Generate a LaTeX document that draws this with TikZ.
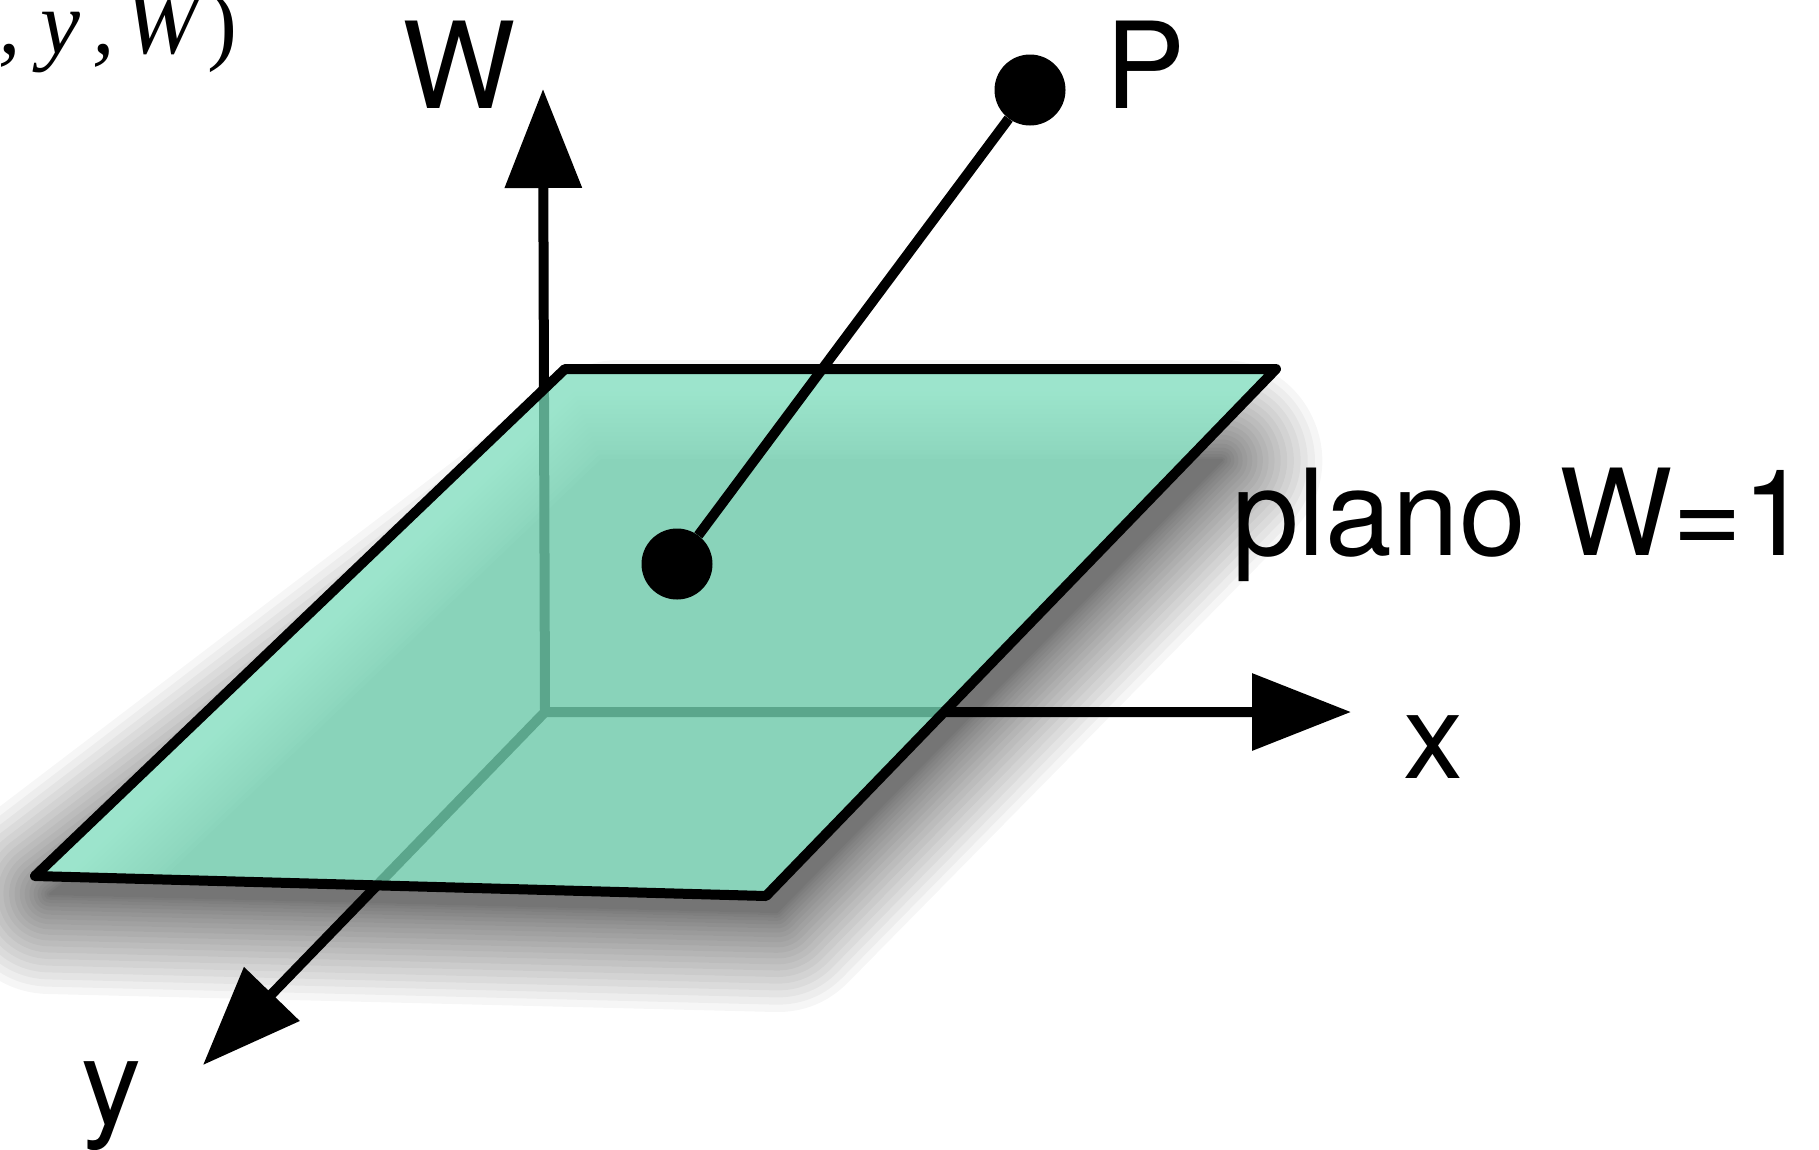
\documentclass[tikz,border=0pt]{standalone}
\usepackage{fontspec}
\setmainfont{TeX Gyre Heros}
\newfontfamily\serifit{Liberation Serif}
\usetikzlibrary{arrows.meta,intersections}
\definecolor{planelight}{RGB}{170,242,218}
\definecolor{planemid}{RGB}{137,211,186}
\definecolor{hiddenaxis}{RGB}{91,166,140}
\tikzset{
  axisline/.style={line width=10pt, draw=black},
  axisarrow/.style={axisline, -{Triangle[length=99pt,width=75pt]}},
  hiddenline/.style={line width=10pt, draw=hiddenaxis, line join=round},
  planeedge/.style={line width=10pt, draw=black, line join=round},
  dot/.style={circle, fill=black, inner sep=0pt, minimum size=71pt},
  biglabel/.style={inner sep=0pt, font=\fontsize{120}{120}\selectfont},
}
\begin{document}
\begin{tikzpicture}[x=1pt,y=-1pt]
\clip (0,0) rectangle (1819,1149);
\fill[white] (0,0) rectangle (1819,1149);

% corners of the plane and axes
\coordinate (A) at (565,369);
\coordinate (B) at (1276,369);
\coordinate (C) at (766,896);
\coordinate (D) at (35,876);
\coordinate (O) at (545,712);
\coordinate (Wt) at (543,89);
\coordinate (Xt) at (1351,712);
\coordinate (Yt) at (203,1065);

% soft drop shadow: stacked grown copies, each its own transparency group
\foreach \w in {2.3,6.4,11.6,17.9,25,32.9,41.4,50.6,60.4,70.8,81.6,93,104.8,117.1,130,143.3,156.8,170.8,185.3,200}{
  \begin{scope}[transparency group, opacity=0.034]
    \filldraw[black, line width=\w pt, line join=round]
      (620,460)--(1222,460)--(777,912)--(50,894)--cycle;
  \end{scope}
}

% plane fill with light glow along top and left edges
\fill[planemid] (A)--(B)--(C)--(D)--cycle;
\begin{scope}
  \clip (A)--(B)--(C)--(D)--cycle;
  \foreach \w in {9,18,...,180}
    \draw[planelight, opacity=0.07, line width=\w pt, line join=round] (D)--(A)--(B);
\end{scope}

% intersections of axes with plane edges
\path[name path=edgeAD] (A)--(D);
\path[name path=edgeBC] (B)--(C);
\path[name path=edgeDC] (D)--(C);
\path[name path=axW] (O)--(Wt);
\path[name path=axX] (O)--(Xt);
\path[name path=axY] (O)--(Yt);
\path[name intersections={of=edgeAD and axW, by=Wc}];
\path[name intersections={of=edgeBC and axX, by=Xc}];
\path[name intersections={of=edgeDC and axY, by=Yc}];

% hidden parts of the axes
\draw[hiddenline] (Wc)--(O)--(Xc);
\draw[hiddenline] (O)--(Yc);

% plane outline
\draw[planeedge] (A)--(B)--(C)--(D)--cycle;

% visible parts of the axes
\draw[axisarrow] (Wc)--(Wt);
\draw[axisarrow] (Xc)--(Xt);
\draw[axisarrow] (Yc)--(Yt);

% point P and its projection
\node[dot] (P) at (1030,90) {};
\node[dot] (Q) at (677,564) {};
\draw[axisline] (P)--(Q);

% labels
\node[biglabel, anchor=base] (lW) at (459,108) {W};
\node[biglabel, anchor=base] (lP) at (1146,108) {P};
\node[biglabel, anchor=base] (lx) at (1433,778) {x};
\node[biglabel, anchor=base] (ly) at (111,1124) {y};
\node[biglabel, anchor=base west] (lplane) at (1232,555) {plano W=1};
\node[inner sep=0pt, anchor=base east, font=\serifit\fontsize{90}{90}\selectfont] (coords) at (238,53)
  {(\textit{x}\kern8pt\textit{,}\kern19pt\textit{y}\kern12pt\textit{,}\kern10pt\textit{W}\kern1pt)};
\end{tikzpicture}
\end{document}
